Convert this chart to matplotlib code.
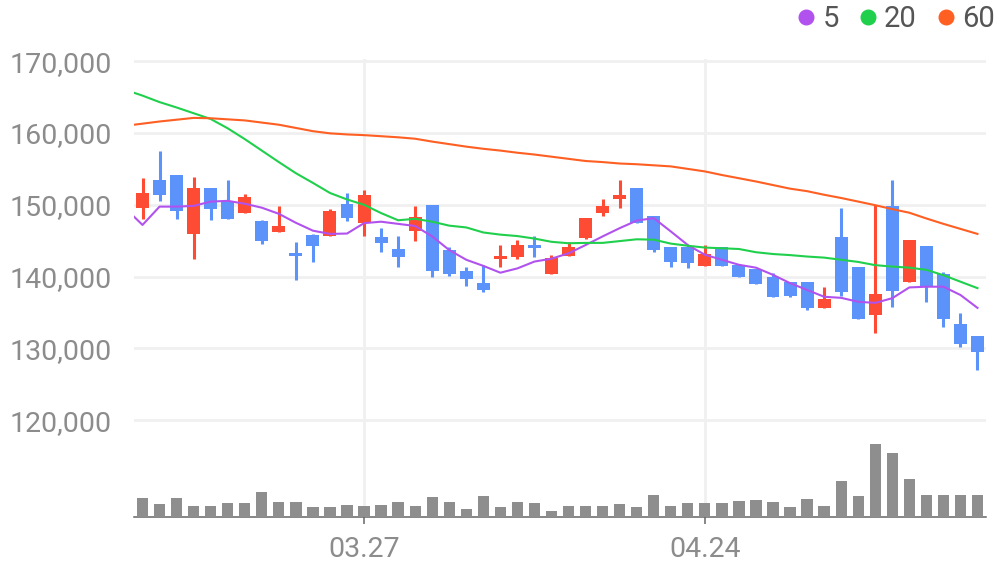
# Candlestick chart with 5/20/60 moving averages and volume bars

import numpy as np
import matplotlib.pyplot as plt
from matplotlib.lines import Line2D
from matplotlib.ticker import FuncFormatter

plt.rcParams['font.family'] = ['Roboto', 'DejaVu Sans']

# Daily prices (50 trading days)
opens = [149500, 153400, 154100, 145900, 152400, 150400, 148800, 147800, 146200, 143000,
         145800, 145600, 150100, 147500, 145500, 143900, 146300, 150000, 143700, 140800,
         139100, 142400, 142700, 144400, 140300, 142900, 145400, 148800, 150800, 152400,
         148500, 144100, 144100, 141500, 144100, 141600, 141100, 139900, 139300, 139300,
         135700, 145500, 141400, 134600, 149900, 139300, 144300, 140400, 133400, 131700]
highs = [153700, 157500, 154100, 153900, 152400, 153500, 151500, 147900, 149900, 144800,
         145900, 149400, 151700, 152100, 146800, 145700, 149900, 150000, 144100, 141400,
         141600, 144400, 145100, 145700, 143000, 144800, 148200, 150800, 153400, 152400,
         148500, 144100, 144400, 144400, 144100, 141800, 141100, 140500, 139300, 139300,
         138600, 149600, 141400, 150000, 153500, 145100, 144300, 140700, 134900, 131700]
lows = [148000, 150600, 148000, 142500, 147900, 148000, 148800, 144500, 146200, 139600,
        142100, 145600, 147700, 145600, 143400, 141300, 144900, 139900, 140100, 138700,
        137800, 141300, 142500, 142700, 140300, 142900, 145300, 148400, 149500, 147500,
        143400, 141300, 141200, 141500, 141500, 139900, 139000, 137100, 137100, 135300,
        135700, 137300, 134100, 132200, 135800, 139300, 136500, 133000, 130200, 127000]
closes = [151700, 151300, 149100, 152400, 149400, 148000, 151100, 145000, 147100, 142900,
          144300, 149200, 148100, 151300, 144700, 142700, 148300, 140800, 140400, 139700,
          138200, 142900, 144400, 144000, 142600, 144100, 148200, 149900, 151400, 147500,
          143700, 142100, 141900, 143200, 141500, 139900, 139000, 137100, 137300, 135700,
          136900, 137900, 134100, 137600, 138000, 145100, 138500, 134100, 130600, 129500]

# Volume (thousand shares)
volume_k = [190, 130, 190, 110, 110, 140, 140, 250, 150, 150,
            100, 100, 120, 110, 120, 150, 110, 200, 150, 80,
            210, 100, 150, 140, 60, 110, 110, 110, 130, 100,
            220, 110, 140, 140, 140, 160, 170, 150, 100, 180,
            110, 360, 210, 730, 640, 380, 220, 220, 220, 220]

# Moving averages, starting one day before the first candle
ma5 = [149500, 147200, 149750, 149750, 149850, 150450, 150550, 150150, 149600, 148750,
       147500, 146400, 145950, 146000, 147450, 147650, 147350, 147050, 145600, 143700,
       142350, 141500, 140550, 141150, 142100, 142500, 143250, 144400, 145600, 146750,
       147800, 148150, 146300, 144400, 143050, 142350, 141650, 141250, 140250, 139100,
       138150, 137200, 137050, 136500, 136350, 137000, 138500, 138600, 138600, 137450,
       135650]
ma20 = [166000, 165200, 164300, 163550, 162750, 161950, 160650, 159150, 157550, 155950,
        154400, 153050, 151650, 150750, 150000, 148850, 147850, 148050, 147650, 147100,
        146850, 146150, 145850, 145650, 145300, 144850, 144650, 144700, 144700, 144950,
        145200, 145150, 144600, 144300, 144050, 143950, 143850, 143400, 143150, 143000,
        142800, 142650, 142350, 142050, 141600, 141400, 141250, 140950, 140200, 139300,
        138400]
ma60 = [161000, 161300, 161600, 161850, 162100, 162050, 161900, 161750, 161450, 161150,
        160700, 160250, 159950, 159800, 159700, 159550, 159400, 159200, 158800, 158450,
        158100, 157800, 157550, 157250, 157000, 156700, 156400, 156100, 155950, 155750,
        155650, 155500, 155350, 155000, 154650, 154150, 153700, 153250, 152750, 152250,
        151900, 151400, 150950, 150450, 149950, 149400, 148900, 148100, 147350, 146650,
        145950]

tick_idx = [13, 33]
tick_labels = ["03.27", "04.24"]
price_ticks = [120000, 130000, 140000, 150000, 160000, 170000]

RED = "#fe4b33"
BLUE = "#5b93fb"
GRAY_TXT = "#8c8c8c"

W, H = 996, 567
fig = plt.figure(figsize=(W / 100, H / 100), dpi=100)
left, right, top, base = 134, 986, 59, 517
ax = fig.add_axes([left / W, (H - base) / H, (right - left) / W, (base - top) / H])
axv = fig.add_axes([left / W, (H - base) / H, (right - left) / W, 80 / H], sharex=ax)
axv.patch.set_alpha(0)

o = np.array(opens)
c = np.array(closes)
x = np.arange(len(o))
up = c >= o
colors = np.where(up, RED, BLUE)

# wicks and bodies
ax.vlines(x, lows, highs, colors=colors, linewidth=2.2, zorder=3)
body = np.maximum(np.abs(c - o), 350)
ax.bar(x, body, bottom=np.minimum(o, c), width=0.76, color=colors, zorder=3)

xm = np.arange(-1, len(o))
ax.plot(xm, ma5, color="#b152ee", lw=1.5, zorder=4)
ax.plot(xm, ma20, color="#20d04c", lw=1.5, zorder=4)
ax.plot(xm, ma60, color="#ff5f22", lw=1.5, zorder=4)

ax.set_xlim(-0.5, len(o) - 0.5)
ax.set_ylim(106540, 170300)
ax.set_yticks(price_ticks)
ax.yaxis.set_major_formatter(FuncFormatter(lambda v, p: f"{int(v):,}"))
ax.grid(True, axis="both", color="#f0f0f0", lw=2.0, zorder=0)
ax.set_axisbelow(True)
for s in ["top", "right", "left", "bottom"]:
    ax.spines[s].set_visible(False)
ax.tick_params(axis="y", length=0, pad=16, labelsize=20.5, labelcolor=GRAY_TXT)
ax.tick_params(axis="x", which="both", bottom=False, labelbottom=False)
ax.set_xticks(tick_idx)

# volume
axv.bar(x, volume_k, width=0.66, color="#8e8e8e", zorder=3)
axv.set_ylim(0, 800)
axv.set_yticks([])
for s in ["top", "right", "left"]:
    axv.spines[s].set_visible(False)
axv.spines["bottom"].set_color("#666666")
axv.spines["bottom"].set_linewidth(1.1)
axv.set_xticks(tick_idx)
axv.set_xticklabels(tick_labels)
axv.tick_params(axis="x", length=5, width=1.1, color="#666666", pad=9,
                labelsize=20.5, labelcolor=GRAY_TXT)

handles = [Line2D([], [], marker="o", ls="none", color=col, markersize=10.5)
           for col in ["#b152ee", "#20d04c", "#ff5f22"]]
fig.legend(handles, ["5", "20", "60"], loc="upper right", bbox_to_anchor=(1.025, 1.037),
           ncol=3, frameon=False, fontsize=21, labelcolor="#555555",
           handlelength=0.6, handletextpad=0.25, columnspacing=0.7)

fig.savefig("out.png", dpi=100)
